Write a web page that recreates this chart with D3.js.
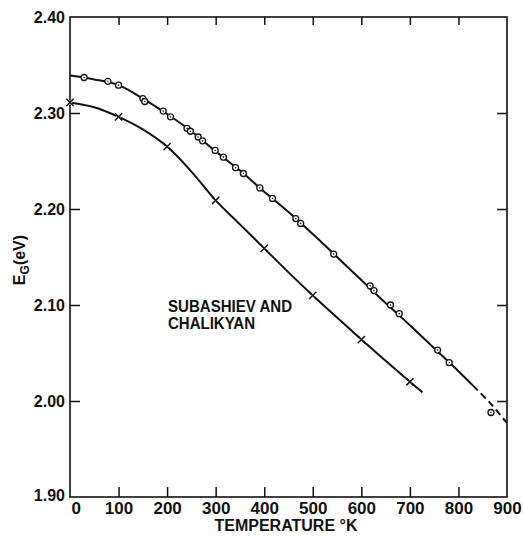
<!DOCTYPE html>
<html>
<head>
<meta charset="utf-8">
<script src="https://cdn.jsdelivr.net/npm/d3@7"></script>
<style>
  html, body { margin: 0; padding: 0; background: #fff; }
  svg text { font-family: "Liberation Sans", Arial, sans-serif; font-weight: bold; fill: #111; }
</style>
</head>
<body>
<svg id="chart" width="523" height="536"></svg>
<script>
// ---- data ----
const tempTicks = [0, 100, 200, 300, 400, 500, 600, 700, 800, 900];
const energyTicks = [1.90, 2.00, 2.10, 2.20, 2.30, 2.40];

// circles (upper data set)
const circleT = [29, 78, 100, 150, 154, 192, 207, 241, 248, 264, 273, 299, 316, 341, 357, 391, 417, 465, 475, 543, 618, 626, 660, 678, 757, 781, 867];
const circleE = [2.337, 2.333, 2.329, 2.315, 2.312, 2.302, 2.296, 2.284, 2.281, 2.275, 2.271, 2.261, 2.254, 2.243, 2.237, 2.222, 2.211, 2.190, 2.185, 2.153, 2.120, 2.115, 2.100, 2.091, 2.053, 2.040, 1.988];

// crosses (Subashiev and Chalikyan)
const crossT = [0, 100, 200, 300, 400, 500, 600, 700];
const crossE = [2.311, 2.296, 2.265, 2.209, 2.159, 2.110, 2.064, 2.020];

// drawn curves
const upperCurveT = [0, 50, 100, 150, 200, 250, 300, 350, 400, 450, 500, 550, 600, 650, 700, 750, 800, 830];
const upperCurveE = [2.339, 2.335, 2.329, 2.315, 2.299, 2.281, 2.260, 2.240, 2.218, 2.197, 2.174, 2.150, 2.126, 2.102, 2.079, 2.055, 2.031, 2.016];
const upperDashT = [830, 865, 900];
const upperDashE = [2.016, 1.998, 1.977];
const lowerCurveT = [0, 50, 100, 150, 200, 250, 300, 350, 400, 450, 500, 550, 600, 650, 700, 726];
const lowerCurveE = [2.311, 2.306, 2.296, 2.283, 2.265, 2.239, 2.209, 2.184, 2.159, 2.134, 2.110, 2.087, 2.064, 2.042, 2.020, 2.009];

const annotation = ["SUBASHIEV AND", "CHALIKYAN"];

// ---- drawing ----
const svg = d3.select("#chart");
const L = 70, R = 507, T = 17, B = 497;
const x = d3.scaleLinear().domain([0, 900]).range([L, R]);
const y = d3.scaleLinear().domain([1.90, 2.40]).range([B, T]);
const ink = "#111";

// frame
svg.append("rect").attr("x", L).attr("y", T).attr("width", R - L).attr("height", B - T)
  .attr("fill", "none").attr("stroke", ink).attr("stroke-width", 1.6);

const innerX = tempTicks.filter(v => v > 0 && v < 900);
const innerY = energyTicks.filter(v => v > 1.9 && v < 2.4);

// bottom axis (labels + inward ticks)
const gB = svg.append("g").attr("transform", `translate(0,${B})`)
  .call(d3.axisBottom(x).tickValues(tempTicks).tickSize(-10).tickPadding(5).tickFormat(d3.format("d")));
gB.select(".domain").remove();
gB.selectAll(".tick line").attr("stroke", ink).attr("stroke-width", 1.5)
  .attr("display", d => (d > 0 && d < 900) ? null : "none");
gB.selectAll(".tick text").attr("font-size", 17).attr("font-family", "Liberation Sans, Arial, sans-serif")
  .attr("fill", ink).attr("font-weight", "bold");
gB.selectAll(".tick text").filter(d => d === 0).attr("text-anchor", "start").attr("x", 1);

// top axis ticks
const gT = svg.append("g").attr("transform", `translate(0,${T})`)
  .call(d3.axisTop(x).tickValues(innerX).tickSize(-8).tickFormat(""));
gT.select(".domain").remove();
gT.selectAll(".tick line").attr("stroke", ink).attr("stroke-width", 1.5);

// left axis
const gL = svg.append("g").attr("transform", `translate(${L},0)`)
  .call(d3.axisLeft(y).tickValues(energyTicks).tickSize(-10).tickPadding(5).tickFormat(d3.format(".2f")));
gL.select(".domain").remove();
gL.selectAll(".tick line").attr("stroke", ink).attr("stroke-width", 1.5)
  .attr("display", d => (d > 1.9 && d < 2.4) ? null : "none");
gL.selectAll(".tick text").attr("font-size", 16).attr("font-family", "Liberation Sans, Arial, sans-serif")
  .attr("fill", ink).attr("font-weight", "bold");
gL.selectAll(".tick text").filter(d => Math.abs(d - 1.9) < 1e-6).attr("dy", "0.2em");

// right axis ticks
const gR = svg.append("g").attr("transform", `translate(${R},0)`)
  .call(d3.axisRight(y).tickValues(innerY).tickSize(-10).tickFormat(""));
gR.select(".domain").remove();
gR.selectAll(".tick line").attr("stroke", ink).attr("stroke-width", 1.5);

// axis titles
svg.append("text").attr("x", 286).attr("y", 531).attr("text-anchor", "middle")
  .attr("font-size", 16).attr("textLength", 143).attr("lengthAdjust", "spacingAndGlyphs")
  .text("TEMPERATURE °K");

const yt = svg.append("text").attr("transform", "translate(25,260) rotate(-90)")
  .attr("text-anchor", "middle").attr("font-size", 16);
yt.append("tspan").text("E");
yt.append("tspan").attr("font-size", 12).attr("dy", 4).text("G");
yt.append("tspan").attr("dy", -4).text("(eV)");

// annotation
svg.append("text").attr("x", 168).attr("y", 312).attr("font-size", 16)
  .attr("textLength", 124).attr("lengthAdjust", "spacingAndGlyphs").text(annotation[0]);
svg.append("text").attr("x", 168).attr("y", 329).attr("font-size", 16)
  .attr("textLength", 87).attr("lengthAdjust", "spacingAndGlyphs").text(annotation[1]);

// curves
const line = d3.line().x(d => x(d[0])).y(d => y(d[1])).curve(d3.curveCatmullRom);
svg.append("path").datum(d3.zip(upperCurveT, upperCurveE)).attr("d", line)
  .attr("fill", "none").attr("stroke", ink).attr("stroke-width", 2);
svg.append("path").datum(d3.zip(upperDashT, upperDashE)).attr("d", line)
  .attr("fill", "none").attr("stroke", ink).attr("stroke-width", 2).attr("stroke-dasharray", "7,4");
svg.append("path").datum(d3.zip(lowerCurveT, lowerCurveE)).attr("d", line)
  .attr("fill", "none").attr("stroke", ink).attr("stroke-width", 2);

// cross markers (with small break in the line)
const crosses = d3.zip(crossT, crossE);
svg.append("g").selectAll("circle").data(crosses).join("circle")
  .attr("cx", d => x(d[0])).attr("cy", d => y(d[1])).attr("r", 2.2).attr("fill", "#fff");
const cg = svg.append("g").attr("stroke", ink).attr("stroke-width", 1.5);
crosses.forEach(d => {
  const cx = x(d[0]), cy = y(d[1]), s = 3.6;
  cg.append("line").attr("x1", cx - s).attr("y1", cy - s).attr("x2", cx + s).attr("y2", cy + s);
  cg.append("line").attr("x1", cx - s).attr("y1", cy + s).attr("x2", cx + s).attr("y2", cy - s);
});

// circle markers with centre dot
const circles = d3.zip(circleT, circleE);
svg.append("g").selectAll("circle").data(circles).join("circle")
  .attr("cx", d => x(d[0])).attr("cy", d => y(d[1])).attr("r", 3)
  .attr("fill", "#fff").attr("stroke", ink).attr("stroke-width", 1.3);
svg.append("g").selectAll("circle").data(circles).join("circle")
  .attr("cx", d => x(d[0])).attr("cy", d => y(d[1])).attr("r", 0.8).attr("fill", ink);
</script>
</body>
</html>
